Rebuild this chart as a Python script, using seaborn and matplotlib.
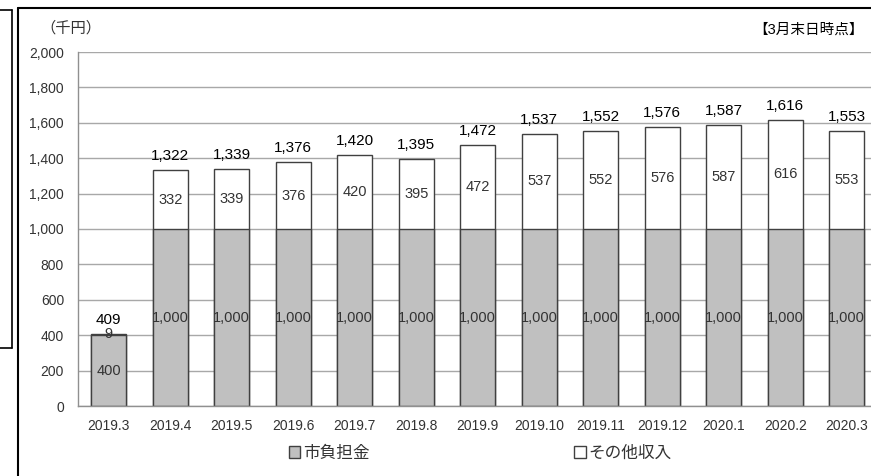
import pandas as pd
import seaborn as sns
import matplotlib.pyplot as plt
from matplotlib.patches import Patch
from matplotlib.lines import Line2D

# Data (thousand yen, as of end of each month)
months = ['2019.3', '2019.4', '2019.5', '2019.6', '2019.7', '2019.8', '2019.9',
          '2019.10', '2019.11', '2019.12', '2020.1', '2020.2', '2020.3']
city_share = [400, 1000, 1000, 1000, 1000, 1000, 1000, 1000, 1000, 1000, 1000, 1000, 1000]
other_income = [9, 332, 339, 376, 420, 395, 472, 537, 552, 576, 587, 616, 553]
# totals as printed above the bars
total_labels = [409, 1322, 1339, 1376, 1420, 1395, 1472, 1537, 1552, 1576, 1587, 1616, 1553]

df = pd.DataFrame({'month': months, 'city': city_share, 'other': other_income,
                   'label': total_labels})
df['total'] = df['city'] + df['other']

sns.set_theme(style='white')
plt.rcParams['font.family'] = ['Liberation Sans', 'Noto Sans CJK JP']

fig = plt.figure(figsize=(8.71, 4.76), dpi=100)
ax = fig.add_axes([78 / 871, 70 / 476, 799.5 / 871, 354 / 476])

edge = '#404040'
bar_w = 0.57
# white "other income" stacked on top: draw totals first, then city share over them
sns.barplot(data=df, x='month', y='total', color='white', edgecolor=edge,
            linewidth=1, width=bar_w, ax=ax, saturation=1)
sns.barplot(data=df, x='month', y='city', color='#c0c0c0', edgecolor=edge,
            linewidth=1, width=bar_w, ax=ax, saturation=1)

ax.set_xlim(-0.5, len(months) - 0.5)
ax.set_ylim(0, 2000)
ax.set_yticks(range(0, 2001, 200))
ax.set_yticklabels([f'{v:,}' for v in range(0, 2001, 200)])
ax.yaxis.grid(True, color='#a8a8a8', linewidth=1)
ax.set_axisbelow(True)
ax.set_xlabel('')
ax.set_ylabel('')
ax.tick_params(axis='both', length=0, labelsize=10, colors='#333333')
ax.tick_params(axis='y', pad=10)
ax.tick_params(axis='x', pad=9)
for s in ['top', 'right']:
    ax.spines[s].set_visible(False)
for s in ['left', 'bottom']:
    ax.spines[s].set_color('#909090')
    ax.spines[s].set_linewidth(1)

# value labels
for i, row in df.iterrows():
    ax.text(i, row['city'] / 2, f"{row['city']:,}", ha='center', va='center',
            fontsize=10.5, color='#333333')
    ax.text(i, row['city'] + row['other'] / 2, f"{row['other']:,}", ha='center',
            va='center', fontsize=10.5, color='#333333')
    ax.text(i, row['total'] + 40, f"{row['label']:,}", ha='center', va='bottom',
            fontsize=11, color='black')

# header texts
fig.text(40 / 871, 1 - 28 / 476, '（千円）', fontsize=11, color='#333333',
         ha='left', va='center')
fig.text(864 / 871, 1 - 30 / 476, '【3月末日時点】', fontsize=10.5, color='black',
         ha='right', va='center')

# legend
handles = [Patch(facecolor='#c0c0c0', edgecolor=edge, label='市負担金'),
           Patch(facecolor='white', edgecolor=edge, label='その他収入')]
leg = fig.legend(handles=handles, loc='center', bbox_to_anchor=(480 / 871, 1 - 453 / 476),
                 ncol=2, frameon=False, fontsize=12, handlelength=0.7, handleheight=0.7,
                 handletextpad=0.15, columnspacing=12.3)
for t in leg.get_texts():
    t.set_color('#333333')

# chart frames
fig.add_artist(Line2D([18 / 871, 18 / 871], [0, 1 - 8 / 476], transform=fig.transFigure,
                      color='black', linewidth=1.5))
fig.add_artist(Line2D([18 / 871, 1], [1 - 8 / 476, 1 - 8 / 476], transform=fig.transFigure,
                      color='black', linewidth=1.5))
fig.add_artist(Line2D([12 / 871, 12 / 871], [1 - 348 / 476, 1 - 10 / 476],
                      transform=fig.transFigure, color='black', linewidth=1.2))
fig.add_artist(Line2D([0, 12 / 871], [1 - 10 / 476, 1 - 10 / 476],
                      transform=fig.transFigure, color='black', linewidth=1.2))
fig.add_artist(Line2D([0, 12 / 871], [1 - 348 / 476, 1 - 348 / 476],
                      transform=fig.transFigure, color='black', linewidth=1.2))

fig.savefig('out.png', dpi=100)
